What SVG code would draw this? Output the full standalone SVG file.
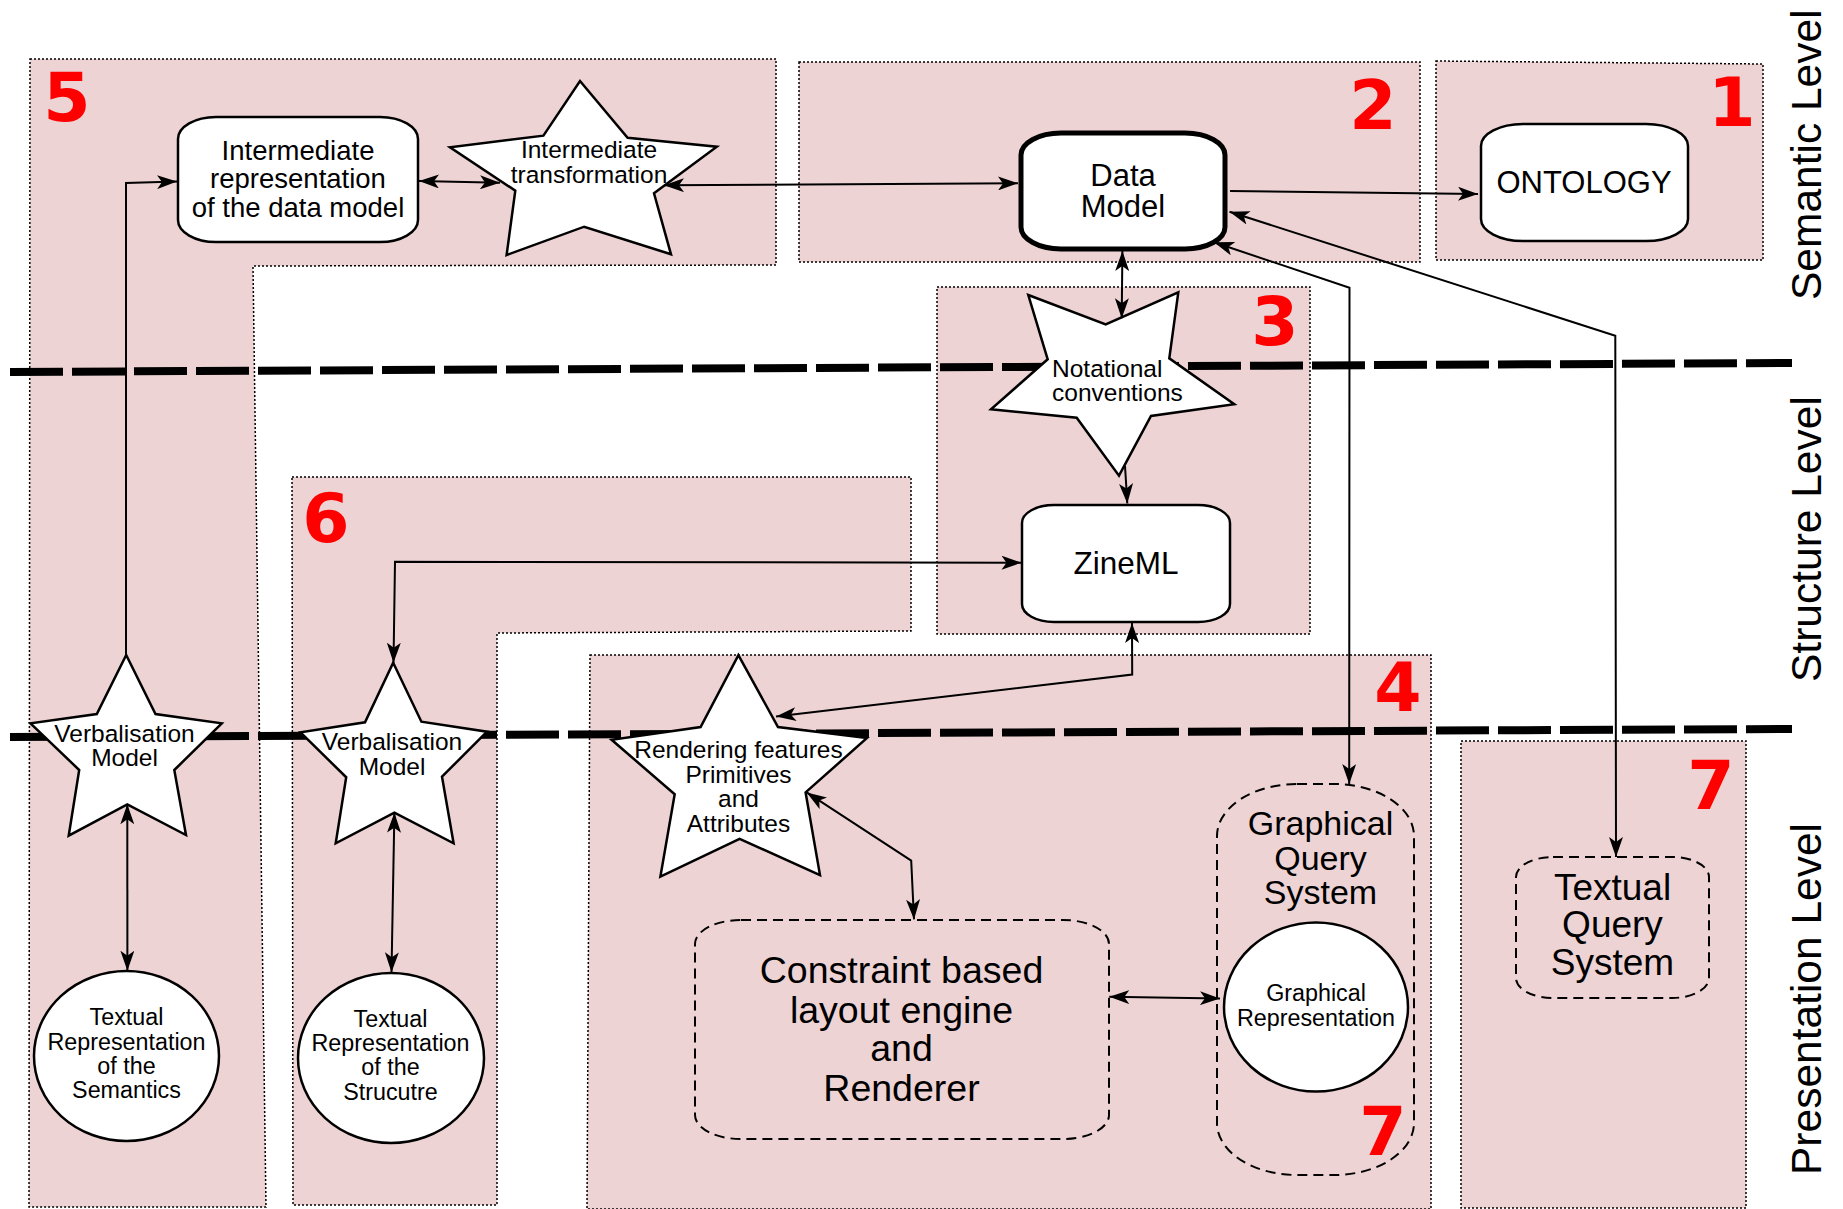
<svg xmlns="http://www.w3.org/2000/svg" width="1843" height="1209" viewBox="0 0 1843 1209">
  <style>
    .region { fill: #eed3d4; stroke: #000; stroke-width: 1.5; stroke-dasharray: 2 2; }
    .node { fill: #fff; stroke: #000; stroke-width: 2.5; }
    .thick { stroke-width: 5; }
    .dashed { fill: none; stroke: #000; stroke-width: 2; stroke-dasharray: 10 6; }
    .level { fill: none; stroke: #000; stroke-width: 8; stroke-dasharray: 53 9; }
    .conn { fill: none; stroke: #000; stroke-width: 2; }
    .both { marker-start: url(#arrow); marker-end: url(#arrow); }
    .end { marker-end: url(#arrow); }
    text { font-family: "Liberation Sans", Arial, sans-serif; fill: #000; text-anchor: middle; }
    .num { font-family: "DejaVu Sans", "Liberation Sans", sans-serif; font-weight: bold; font-size: 68px; fill: #ff0000; }
    .lvl { font-size: 42.5px; text-anchor: start; }
  </style>
  <defs>
    <marker id="arrow" viewBox="0 0 20 14" refX="20" refY="7" markerWidth="20" markerHeight="14" markerUnits="userSpaceOnUse" orient="auto-start-reverse">
      <path d="M0,0 L20,7 L0,14 L5,7 Z" fill="#000"/>
    </marker>
  </defs>

  <rect width="1843" height="1209" fill="#fff"/>

  <!-- component areas -->
  <g id="areas">
    <path id="area-5" class="region" d="M30,59 L776,59 L776,265 L253,266 L266,1207 L29,1207 Z"/>
    <path id="area-2" class="region" d="M799,62 L1420,62 L1420,262 L799,262 Z"/>
    <path id="area-1" class="region" d="M1436,61 L1763,64 L1763,260 L1436,260 Z"/>
    <path id="area-3" class="region" d="M937,287 L1310,287 L1310,634 L937,634 Z"/>
    <path id="area-6" class="region" d="M292,477 L911,477 L911,631 L497,633 L497,1205 L293,1205 Z"/>
    <path id="area-4" class="region" d="M590,655 L1431,655 L1431,1209 L587,1209 Z"/>
    <path id="area-7" class="region" d="M1461,741 L1746,741 L1746,1208 L1461,1208 Z"/>
  </g>

  <!-- level separators -->
  <g id="levels">
    <path class="level" d="M10,372 L1792,363"/>
    <path class="level" d="M10,737 L1792,729"/>
    <text class="lvl" transform="translate(1821,300) rotate(-90)">Semantic Level</text>
    <text class="lvl" transform="translate(1821,682) rotate(-90)">Structure Level</text>
    <text class="lvl" transform="translate(1821,1175) rotate(-90)">Presentation Level</text>
  </g>

  <!-- area numbers -->
  <g id="numbers">
    <text class="num" x="67" y="121">5</text>
    <text class="num" x="1373" y="129">2</text>
    <text class="num" x="1732" y="126">1</text>
    <text class="num" x="1275" y="345">3</text>
    <text class="num" x="326" y="542">6</text>
    <text class="num" x="1398" y="711">4</text>
    <text class="num" x="1383" y="1155">7</text>
    <text class="num" x="1711" y="809">7</text>
  </g>

  <!-- nodes -->
  <g id="intermediate-representation">
    <rect class="node" x="178" y="117" width="240" height="125" rx="38" ry="22"/>
    <text font-size="27.5"><tspan x="298" y="160">Intermediate</tspan><tspan x="298" y="188">representation</tspan><tspan x="298" y="216.5">of the data model</tspan></text>
  </g>

  <g id="intermediate-transformation">
    <polygon class="node" points="580,81 627.6,137.7 716.8,146.7 654,193.3 671,254.3 584.2,226.7 506.6,255 515.3,190.7 450,147.3 543.4,135.7"/>
    <text font-size="24.5"><tspan x="589" y="158">Intermediate</tspan><tspan x="589" y="183">transformation</tspan></text>
  </g>

  <g id="data-model">
    <rect class="node thick" x="1021" y="133" width="204" height="116" rx="40" ry="22"/>
    <text font-size="31"><tspan x="1123" y="185.5">Data</tspan><tspan x="1123" y="217">Model</tspan></text>
  </g>

  <g id="ontology">
    <rect class="node" x="1481" y="124" width="207" height="117" rx="42" ry="22"/>
    <text font-size="31" x="1584" y="193">ONTOLOGY</text>
  </g>

  <g id="notational-conventions">
    <polygon class="node" points="1028.3,295 1105.7,324.3 1178.3,292.3 1169.3,358.3 1234.3,404.3 1151,416 1119,475.7 1076.7,417.7 991,409.3 1047.7,359.3"/>
    <text font-size="24.5" style="text-anchor:start"><tspan x="1052" y="376.5">Notational</tspan><tspan x="1052" y="401">conventions</tspan></text>
  </g>

  <g id="zineml">
    <rect class="node" x="1022" y="505" width="208" height="117" rx="32" ry="18"/>
    <text font-size="31.5" x="1126" y="574">ZineML</text>
  </g>

  <g id="verbalisation-semantics">
    <polygon class="node" points="126.2,655 155.5,714 221.8,723.3 174.3,770 186,835 127.3,804.3 68.7,835.7 79.2,770 30.5,723.3 96.8,714"/>
    <text font-size="24.5"><tspan x="124.5" y="741.5">Verbalisation</tspan><tspan x="124.5" y="766">Model</tspan></text>
  </g>

  <g id="verbalisation-structure">
    <polygon class="node" points="393.2,662.7 421.4,721.7 487,731.7 442,776.7 453.6,843.3 394.4,812.7 335.7,843.3 346.2,777.3 300.5,732.3 365,722.3"/>
    <text font-size="24.5"><tspan x="392" y="750">Verbalisation</tspan><tspan x="392" y="774.5">Model</tspan></text>
  </g>

  <g id="rendering-features">
    <polygon class="node" points="738.4,655.2 778,727 867,738 805.6,792.4 820,875.1 739.6,838.8 660.4,876.6 674.7,794.2 611.6,739.8 700.6,727"/>
    <text font-size="24.5"><tspan x="738.5" y="758">Rendering features</tspan><tspan x="738.5" y="782.5">Primitives</tspan><tspan x="738.5" y="807">and</tspan><tspan x="738.5" y="831.5">Attributes</tspan></text>
  </g>

  <g id="textual-semantics">
    <ellipse class="node" cx="126.5" cy="1056" rx="92.5" ry="85"/>
    <text font-size="23.3"><tspan x="126.5" y="1025">Textual</tspan><tspan x="126.5" y="1049.5">Representation</tspan><tspan x="126.5" y="1073.5">of the</tspan><tspan x="126.5" y="1098">Semantics</tspan></text>
  </g>

  <g id="textual-structure">
    <ellipse class="node" cx="391" cy="1058" rx="93" ry="85"/>
    <text font-size="23.3"><tspan x="390.5" y="1027">Textual</tspan><tspan x="390.5" y="1051">Representation</tspan><tspan x="390.5" y="1075">of the</tspan><tspan x="390.5" y="1100">Strucutre</tspan></text>
  </g>

  <g id="layout-engine">
    <rect class="dashed" x="695" y="920" width="414" height="219" rx="46" ry="24"/>
    <text font-size="37.5"><tspan x="901.5" y="983">Constraint based</tspan><tspan x="901.5" y="1022.5">layout engine</tspan><tspan x="901.5" y="1061">and</tspan><tspan x="901.5" y="1100.5">Renderer</tspan></text>
  </g>

  <g id="graphical-query-system">
    <rect class="dashed" x="1217" y="784" width="197" height="391" rx="80" ry="52"/>
    <text font-size="34"><tspan x="1320.5" y="835">Graphical</tspan><tspan x="1320.5" y="869.5">Query</tspan><tspan x="1320.5" y="904">System</tspan></text>
  </g>

  <g id="graphical-representation">
    <ellipse class="node" cx="1316" cy="1007" rx="92" ry="84.5"/>
    <text font-size="23.3"><tspan x="1316" y="1000.5">Graphical</tspan><tspan x="1316" y="1025.5">Representation</tspan></text>
  </g>

  <g id="textual-query-system">
    <rect class="dashed" x="1516" y="857" width="193" height="141" rx="37" ry="20"/>
    <text font-size="37"><tspan x="1612.5" y="899.5">Textual</tspan><tspan x="1612.5" y="937">Query</tspan><tspan x="1612.5" y="975">System</tspan></text>
  </g>

  <!-- connectors -->
  <g id="connectors">
    <path class="conn end" d="M126,655 L126,183 L177,181.5"/>
    <path class="conn both" d="M419,181 L500,182.7"/>
    <path class="conn both" d="M664,185.3 L1018,183.3"/>
    <path class="conn end" d="M1230,191 L1478,194"/>
    <path class="conn both" d="M1122.4,251 L1121.7,318.3"/>
    <path class="conn end" d="M1125,466 L1127.3,503.5"/>
    <path class="conn both" d="M393.5,662.7 L395,561.7 L1021.5,562.7"/>
    <path class="conn both" d="M1132,623 L1132.2,674.5 L776,716.5"/>
    <path class="conn both" d="M806.7,792.4 L911.2,860.6 L914,919.4"/>
    <path class="conn both" d="M1109.3,996.7 L1220,998.5"/>
    <path class="conn both" d="M1214,242.3 L1349.5,287.7 L1349.2,784"/>
    <path class="conn both" d="M1229.5,211.7 L1615.3,335.7 L1616,857"/>
    <path class="conn both" d="M127.3,804.3 L127.4,970.7"/>
    <path class="conn both" d="M394.4,812.7 L391.5,972.3"/>
  </g>
</svg>
